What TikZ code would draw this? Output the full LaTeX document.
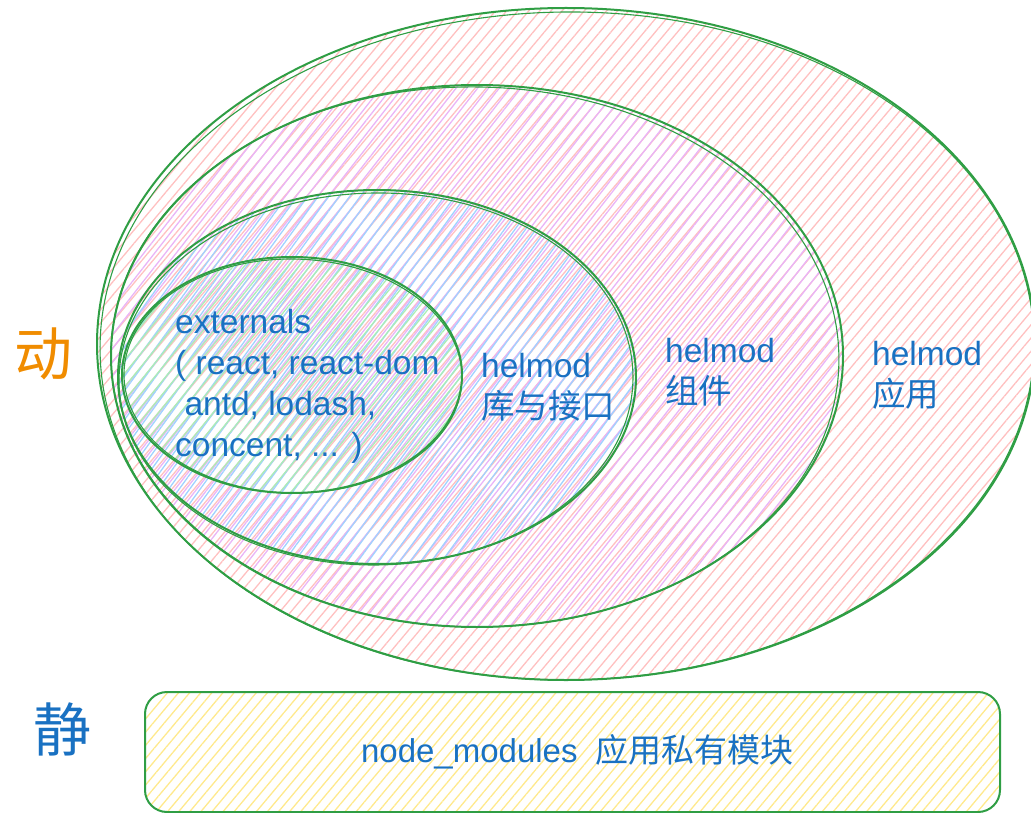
\documentclass[tikz,border=0pt]{standalone}
\usepackage{fontspec}
\setmainfont{Liberation Sans}
\newfontfamily\cjk{Noto Sans CJK SC}
\usetikzlibrary{shapes.geometric,patterns.meta,calc}
\definecolor{txtblue}{HTML}{1971C2}
\definecolor{dongorange}{HTML}{F08C00}
\definecolor{strokegreen}{HTML}{2F9E44}
\definecolor{hpink}{HTML}{FFC0C0}
\definecolor{hpurple}{HTML}{E9B4F7}
\definecolor{hblue}{HTML}{A0D2FF}
\definecolor{hgreen}{HTML}{ABEEB5}
\definecolor{hyellow}{HTML}{FFE98C}
\tikzset{
  zone/.style={ellipse, draw=strokegreen, line width=2pt, inner sep=0pt, outer sep=0pt},
  sketchline/.style={draw=strokegreen, line width=1.1pt},
  label/.style={text=txtblue, align=left, inner sep=0pt, anchor=north west,
    font=\fontsize{33.5}{41}\selectfont},
  bigchar/.style={inner sep=0pt, font=\cjk\fontsize{58}{60}\selectfont}
}
\begin{document}
\begin{tikzpicture}[x=1pt,y=-1pt]
\useasboundingbox (0,0) rectangle (1031,813);
% outer: helmod app
\node[zone, minimum width=938pt, minimum height=672pt,
  pattern={Lines[angle=50,distance=8.5pt,line width=1.3pt]}, pattern color=hpink] (app) at (566,344) {};
\draw[sketchline, rotate around={0.6:(app.center)}] ($(app.center)+(1,2)$) ellipse [x radius=467, y radius=334];
% middle: helmod components
\node[zone, minimum width=732pt, minimum height=542pt,
  pattern={Lines[angle=52,distance=8.5pt,line width=1.3pt,yshift=3pt]}, pattern color=hpurple] (comp) at (477,356) {};
\draw[sketchline, rotate around={-0.8:(comp.center)}] ($(comp.center)+(-2,1)$) ellipse [x radius=364, y radius=270];
% inner: lib & interfaces
\node[zone, minimum width=518pt, minimum height=374pt,
  pattern={Lines[angle=54,distance=8.5pt,line width=1.3pt,yshift=5pt]}, pattern color=hblue] (lib) at (377,377) {};
\draw[sketchline, rotate around={0.8:(lib.center)}] ($(lib.center)+(-1,2)$) ellipse [x radius=257, y radius=186];
% innermost: externals
\node[zone, minimum width=340pt, minimum height=236pt,
  pattern={Lines[angle=51,distance=8.5pt,line width=1.3pt,yshift=2pt]}, pattern color=hgreen] (ext) at (292,375) {};
\draw[sketchline, rotate around={-1:(ext.center)}] ($(ext.center)+(1,1)$) ellipse [x radius=169, y radius=117];
% static box
\node[draw=strokegreen, line width=2pt, rounded corners=22pt, minimum width=855pt, minimum height=120pt,
  pattern={Lines[angle=50,distance=8.5pt,line width=1.3pt]}, pattern color=hyellow] (nm) at (572.5,752) {};
% labels
\node[label] (extlbl) at (175,309) {externals\\( react, react-dom\\\ antd, lodash,\\concent, ... )};
\node[label] (liblbl) at (481,353) {helmod\\{\cjk 库与接口}};
\node[label] (complbl) at (665,338) {helmod\\{\cjk 组件}};
\node[label] (applbl) at (872,341) {helmod\\{\cjk 应用}};
\node[text=txtblue, inner sep=0pt, font=\fontsize{33}{40}\selectfont] (nmlbl) at ($(nm.center)+(5,0)$) {node\_modules\ \ {\cjk 应用私有模块}};
\node[bigchar, text=dongorange] (dong) at (43,354) {动};
\node[bigchar, text=txtblue] (jing) at (62,729) {静};
\end{tikzpicture}
\end{document}
